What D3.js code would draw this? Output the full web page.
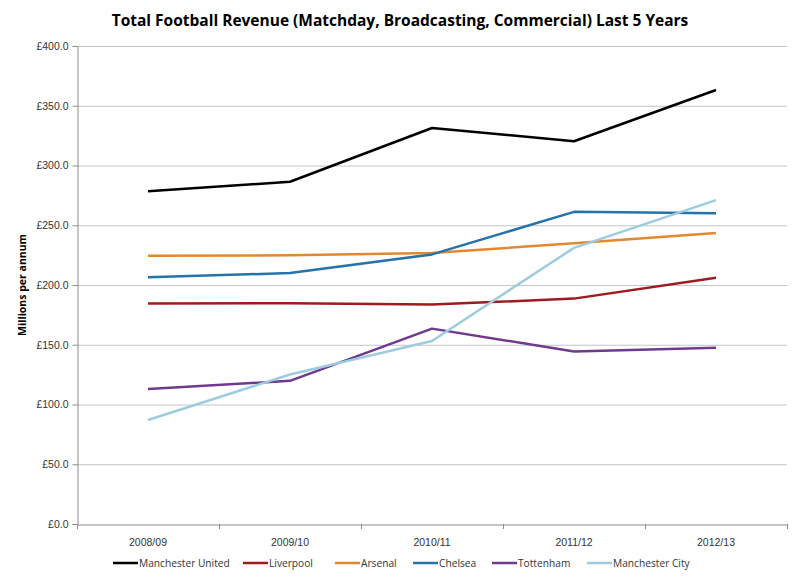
<!DOCTYPE html>
<html><head><meta charset="utf-8">
<script src="https://cdn.jsdelivr.net/npm/d3@7"></script>
<style>body{margin:0;background:#fff;} svg{display:block;font-family:"Open Sans","Noto Sans",sans-serif;}</style>
</head><body>
<svg id="c" width="800" height="581"></svg>
<script>
const categories = ["2008/09","2009/10","2010/11","2011/12","2012/13"];
const seriesNames = ["Manchester United","Liverpool","Arsenal","Chelsea","Tottenham","Manchester City"];
const manUtd = [278.5, 286.4, 331.4, 320.3, 363.2];
const liverpool = [184.5, 184.8, 183.6, 188.6, 206.1];
const arsenal = [224.4, 224.9, 226.8, 234.9, 243.6];
const chelsea = [206.4, 210.0, 225.6, 261.2, 260.1];
const tottenham = [113.0, 119.8, 163.5, 144.4, 147.4];
const manCity = [87.0, 125.1, 153.2, 231.1, 271.0];
const yTicks = [0,50,100,150,200,250,300,350,400];
const colors = ["#000000","#9E1B1E","#E3882F","#2573A8","#6F3A8E","#9DCBE0"];
const seriesValues = [manUtd, liverpool, arsenal, chelsea, tottenham, manCity];

const svg = d3.select("#c");
const m = {l:77, r:787, t:46, b:524};
const x = d3.scaleBand().domain(categories).range([m.l, m.r]);
const y = d3.scaleLinear().domain([0,400]).range([m.b, m.t]);

// gridlines
svg.append("g").selectAll("line").data(yTicks.slice(1)).join("line")
  .attr("x1", m.l).attr("x2", m.r)
  .attr("y1", d=>y(d)+0.5).attr("y2", d=>y(d)+0.5)
  .attr("stroke","#c4c4c4").attr("stroke-width",1);

// y axis
const ya = svg.append("g").attr("transform",`translate(${m.l+0.5},0)`)
  .call(d3.axisLeft(y).tickValues(yTicks).tickSize(5).tickPadding(4).tickFormat(d=>"£"+d.toFixed(1)));
ya.select(".domain").attr("stroke","#8c8c8c");
ya.selectAll(".tick line").attr("stroke","#8c8c8c");
ya.selectAll("text").attr("font-size",10.5).attr("fill","#333");

// x axis
const xa = svg.append("g").attr("transform",`translate(0,${m.b+0.5})`)
  .call(d3.axisBottom(x).tickSize(0).tickPadding(14));
xa.select(".domain").attr("stroke","#8c8c8c");
xa.selectAll("text").attr("font-size",10.5).attr("fill","#333");
// category boundary ticks
svg.append("g").selectAll("line").data(categories.concat([null])).join("line")
  .attr("x1",(d,i)=> i<categories.length ? x(d)+0.5 : m.r+0.5)
  .attr("x2",(d,i)=> i<categories.length ? x(d)+0.5 : m.r+0.5)
  .attr("y1", m.b).attr("y2", m.b+5).attr("stroke","#8c8c8c");

// lines
const line = d3.line().x((d,i)=>x(categories[i])+x.bandwidth()/2).y(d=>y(d));
svg.append("g").selectAll("path").data(seriesValues).join("path")
  .attr("d", d=>line(d)).attr("fill","none")
  .attr("stroke",(d,i)=>colors[i]).attr("stroke-width",2.5)
  .attr("stroke-linejoin","round");

// title
svg.append("text").attr("x",400).attr("y",26).attr("text-anchor","middle")
  .attr("font-size",15.5).attr("font-weight","bold").attr("fill","#000")
  .text("Total Football Revenue (Matchday, Broadcasting, Commercial) Last 5 Years");

// y label
svg.append("text").attr("transform",`translate(26,${(m.t+m.b)/2}) rotate(-90)`)
  .attr("text-anchor","middle").attr("font-size",10.5).attr("font-weight","bold")
  .text("Millions per annum");

// legend
const legendX = [113, 243, 335, 413, 492, 587];
const lg = svg.append("g").selectAll("g").data(seriesNames).join("g")
  .attr("transform",(d,i)=>`translate(${legendX[i]},563)`);
lg.append("line").attr("x1",0).attr("x2",25).attr("y1",0).attr("y2",0)
  .attr("stroke",(d,i)=>colors[i]).attr("stroke-width",2.5);
lg.append("text").attr("x",26).attr("y",4).attr("font-size",10.2).attr("fill","#333").text(d=>d);
</script>
</body></html>
